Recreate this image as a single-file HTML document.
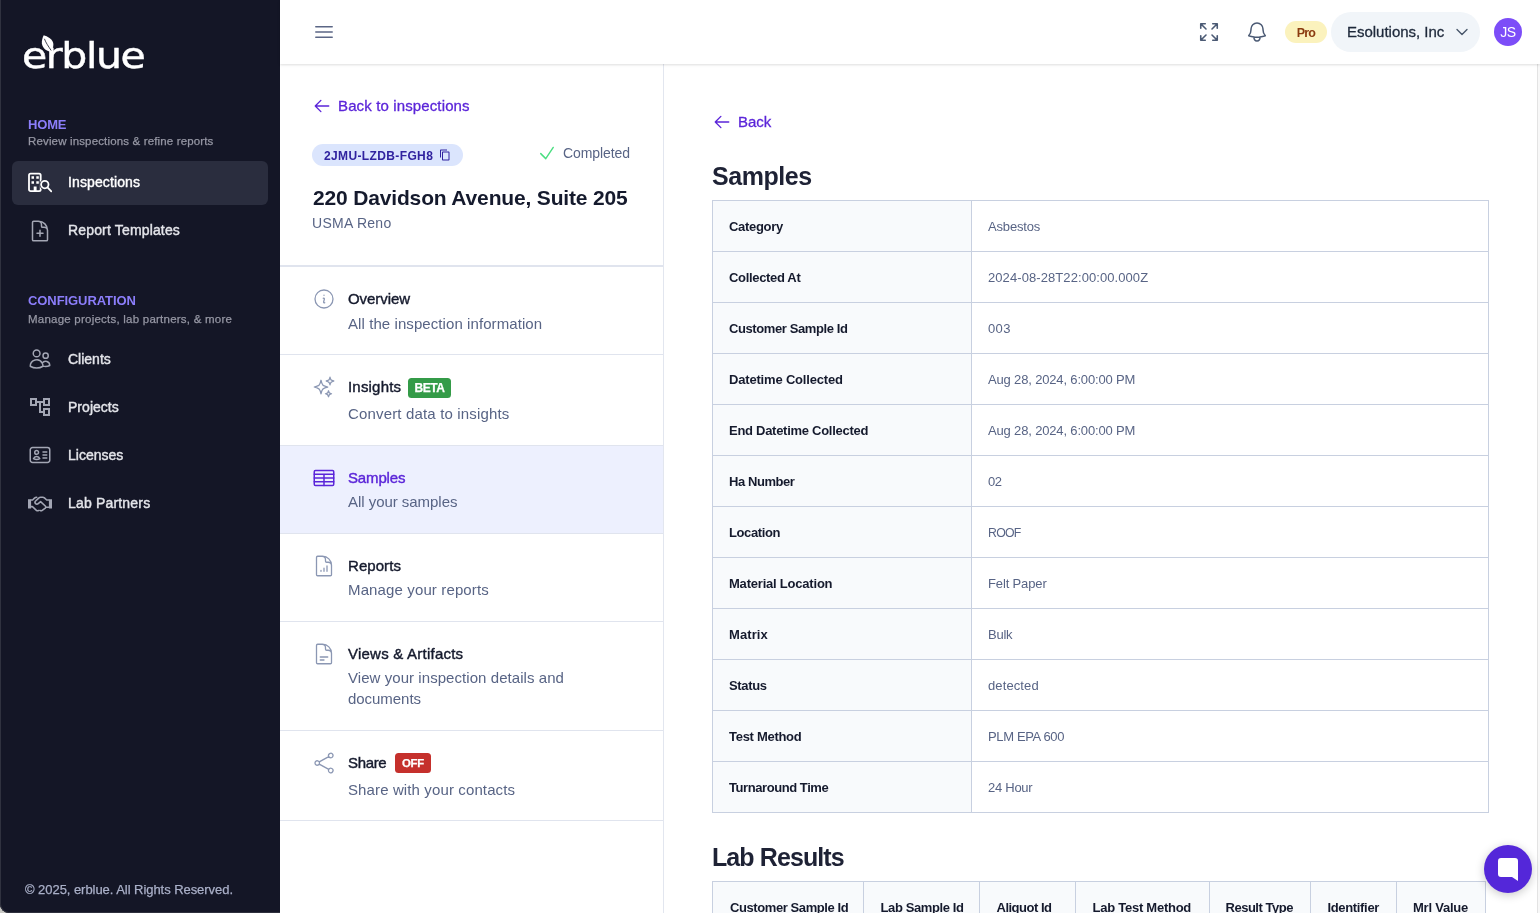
<!DOCTYPE html>
<html lang="en">
<head>
<meta charset="utf-8">
<title>erblue – Samples</title>
<style>
*{box-sizing:border-box;margin:0;padding:0}
html,body{width:1540px;height:913px;overflow:hidden;background:#fff;font-family:"Liberation Sans",Arial,sans-serif;color:#0f172a}
body{position:relative}
#cn{position:absolute;left:0;top:900px;width:14px;height:13px;background:#c9c9c5}
.abs{position:absolute}
span{white-space:nowrap}
/* sidebar */
#sb{position:absolute;left:0;top:0;width:280px;height:913px;background:#141626;box-shadow:inset 1px 0 0 #30323f,inset 0 -1px 0 #2e303d;border-bottom-left-radius:9px}
#logo{position:absolute;left:21.800px;top:31.600px;transform:scaleX(1.140);transform-origin:0 0;font-family:"DejaVu Sans","Liberation Sans",sans-serif;font-size:36px;line-height:48px;color:#fff;white-space:nowrap;-webkit-text-stroke:.45px #fff}
.sh{position:absolute;left:28px;font-size:13px;font-weight:700;color:#8c7efb;line-height:16px;white-space:nowrap}
.ss{position:absolute;left:28px;font-size:11.500px;color:#9697a4;line-height:14px;white-space:nowrap;-webkit-text-stroke:.25px #9697a4}
.si{position:absolute;left:12px;width:256px;height:44px;border-radius:6px;color:#e4e5ea;font-size:14px;line-height:44px;padding-left:56px;white-space:nowrap;-webkit-text-stroke:.4px #e4e5ea}
.si.on{background:#2a2d3e;color:#fff;-webkit-text-stroke-color:#fff}
.si svg{position:absolute;left:16px;top:10px;width:24px;height:24px}
#foot{position:absolute;left:25px;top:881.5px;font-size:13px;color:#aab0c8;line-height:16px;white-space:nowrap;-webkit-text-stroke:.25px #aab0c8}
/* header */
#hd{position:absolute;left:280px;top:0;width:1260px;height:64px;background:#fff;box-shadow:0 1px 3px rgba(0,0,0,.09),0 1px 2px rgba(0,0,0,.05);z-index:5}
#hd svg{position:absolute}
#pro{position:absolute;left:1005px;top:21px;width:42px;height:22px;border-radius:11px;background:#fbf2bd;color:#8a3a10;font-size:12.5px;font-weight:700;line-height:24px;text-align:center}
#org{position:absolute;left:1051px;top:12px;width:149px;height:40px;border-radius:20px;background:#f1f5f9;color:#1e293b;font-size:15px;line-height:40px;padding-left:16px;white-space:nowrap;-webkit-text-stroke:.3px #1e293b}
#av{position:absolute;left:1214px;top:18px;width:28px;height:28px;border-radius:14px;background:#7c4df8;color:#fff;font-size:14px;line-height:28px;text-align:center}
/* panel */
#pn{position:absolute;left:280px;top:64px;width:384px;height:849px;background:#fff;border-right:1px solid #e2e6ef}
.pl{color:#5b25d9;font-size:15px;line-height:20px;white-space:nowrap;-webkit-text-stroke:.3px #5b25d9}
#code{position:absolute;left:32px;top:80px;width:151px;height:22px;border-radius:11px;background:#dbe5fd;color:#30239f;font-size:12px;font-weight:700;line-height:24px;padding-left:12px;white-space:nowrap}
#done{position:absolute;left:283px;top:80px;font-size:14px;line-height:18px;color:#586485;white-space:nowrap}
#ttl{position:absolute;left:33px;top:120px;font-size:21px;font-weight:700;line-height:28px;color:#151a2d;white-space:nowrap}
#sub{position:absolute;left:32px;top:149px;font-size:14px;line-height:20px;color:#586485;white-space:nowrap}
.hr{position:absolute;left:0;width:383px;height:1px;background:#e0e4ee}
.it{position:absolute;left:0;width:383px}
.it svg{position:absolute;left:32px;width:24px;height:24px}
.it b{position:absolute;left:68px;font-size:15px;line-height:20px;color:#151a2d;font-weight:400;white-space:nowrap;-webkit-text-stroke:.4px #151a2d}
.it p{position:absolute;left:68px;font-size:15px;line-height:21px;color:#586485;width:300px}
.tag{position:absolute;height:20px;border-radius:3.500px;color:#fff;font-size:12px;font-weight:700;line-height:20px;text-align:center;-webkit-text-stroke:.25px #fff}
/* main */
#mn{position:absolute;left:664px;top:64px;width:873px;height:849px;background:#fff;overflow:hidden}
#rl{position:absolute;left:1537px;top:64px;width:3px;height:849px;background:#f8f8f8;border-left:1px solid #e3e3e3}
h2{position:absolute;left:48px;font-size:25px;font-weight:700;color:#1e2235;line-height:32px;white-space:nowrap}
table{position:absolute;left:48px;border-collapse:collapse;font-size:13px}
td,th{border:1px solid #c8d0e0;height:51px;padding:0 16px;text-align:left;vertical-align:middle;white-space:nowrap}
th{background:#f8fafc;color:#151a2d;font-weight:700}
td{color:#586485}
#t2 th{padding:0 0 0 17px;text-align:left}
#chat{position:absolute;left:1484px;top:845px;width:48px;height:48px;border-radius:24px;background:#5427d9;box-shadow:0 2px 10px rgba(0,0,0,.22);z-index:9}
</style>
</head>
<body>
<div id="cn"></div>
<div id="sb">
  <div id="logo"><span style="letter-spacing:-1.24px">erblue</span></div>
  <svg id="leaf" class="abs" style="left:38px;top:32px" width="20" height="24" viewBox="0 0 20 24"><path d="M5.700 3.200C9 4 15.500 7.500 15.400 12.500 15.300 16 14 18.500 13 19.800 9 19.500 4.500 16.500 3.900 11.500 3.600 8.500 4.600 5.500 5.700 3.200Z" fill="#fff"/><path d="M6.400 6.800C8 11 10.500 14.500 13.200 18.500" stroke="#141626" stroke-width="0.800" fill="none"/></svg>
  <div class="sh" style="top:117px"><span style="letter-spacing:-0.18px">HOME</span></div>
  <div class="ss" style="top:134.400px"><span style="letter-spacing:0.15px">Review inspections &amp; refine reports</span></div>
  <div class="si on" style="top:161px;line-height:43px"><svg viewBox="0 0 24 24" fill="none" stroke="#fff" stroke-width="1.800" stroke-linecap="round" stroke-linejoin="round"><rect x="1" y="2.700" width="11.700" height="17.400" rx="1.600"/><path d="M3.500 5.300h2.500v2.400h-2.500zM8.300 5.300h2.500v2.400h-2.500zM3.500 10.300h2.500v2.400h-2.500zM8.300 10.300h2.500v2.400h-2.500zM5.700 15.400h2.900v4.700h-2.900z" fill="#fff" stroke="none"/><circle cx="16.800" cy="13.600" r="5.300" fill="#2a2d3e" stroke="none"/><circle cx="16.800" cy="13.600" r="3.700"/><path d="m19.700 16.600 3.600 3.700"/></svg><span style="letter-spacing:0.12px">Inspections</span></div>
  <div class="si" style="top:208px"><svg style="top:11px" viewBox="0 0 24 24" fill="none" stroke="#a3a6b4" stroke-width="1.5" stroke-linecap="round" stroke-linejoin="round"><path d="M19.5 14.25v-2.625a3.375 3.375 0 0 0-3.375-3.375h-1.5A1.125 1.125 0 0 1 13.5 7.125v-1.5a3.375 3.375 0 0 0-3.375-3.375H8.25m3.750 9v6m3-3H9m1.500-12H5.625c-.621 0-1.125.504-1.125 1.125v17.250c0 .621.504 1.125 1.125 1.125h12.750c.621 0 1.125-.504 1.125-1.125V11.250a9 9 0 0 0-9-9Z"/></svg><span style="letter-spacing:0.16px">Report Templates</span></div>
  <div class="sh" style="top:293px"><span style="letter-spacing:-0.08px">CONFIGURATION</span></div>
  <div class="ss" style="top:311.700px"><span style="letter-spacing:0.23px">Manage projects, lab partners, &amp; more</span></div>
  <div class="si" style="top:337px"><svg style="" viewBox="0 0 24 24" fill="none" stroke="#a3a6b4" stroke-width="1.5" stroke-linecap="round" stroke-linejoin="round"><path d="M15 19.128a9.380 9.380 0 0 0 2.625.372 9.337 9.337 0 0 0 4.121-.952 4.125 4.125 0 0 0-7.533-2.493M15 19.128v-.003c0-1.113-.285-2.160-.786-3.070M15 19.128v.106A12.318 12.318 0 0 1 8.624 21c-2.331 0-4.512-.645-6.374-1.766l-.001-.109a6.375 6.375 0 0 1 11.964-3.070M12 6.375a3.375 3.375 0 1 1-6.750 0 3.375 3.375 0 0 1 6.750 0Zm8.250 2.250a2.625 2.625 0 1 1-5.250 0 2.625 2.625 0 0 1 5.250 0Z"/></svg><span>Clients</span></div>
  <div class="si" style="top:385px"><svg style="left:16px;top:10px;width:24px;height:24px" viewBox="0 0 24 24" fill="#a3a6b4"><path d="M22 11V3h-7v3H9V3H2v8h7V8h2v10h4v3h7v-8h-7v3h-2V8h2v3h7zM7 9H4V5h3v4zm10 6h3v4h-3v-4zm0-10h3v4h-3V5z"/></svg><span style="letter-spacing:0.03px">Projects</span></div>
  <div class="si" style="top:433px"><svg style="" viewBox="0 0 24 24" fill="none" stroke="#a3a6b4" stroke-width="1.5" stroke-linecap="round" stroke-linejoin="round"><path d="M15 9h3.750M15 12h3.750M15 15h3.750M4.500 19.500h15a2.250 2.250 0 0 0 2.250-2.250V6.750A2.250 2.250 0 0 0 19.500 4.500h-15a2.250 2.250 0 0 0-2.250 2.250v10.500A2.250 2.250 0 0 0 4.500 19.500Zm6-10.125a1.875 1.875 0 1 1-3.750 0 1.875 1.875 0 0 1 3.750 0Zm1.294 6.336a6.721 6.721 0 0 1-3.170.789 6.721 6.721 0 0 1-3.168-.789 3.376 3.376 0 0 1 6.338 0Z"/></svg><span>Licenses</span></div>
  <div class="si" style="top:481px"><svg style="left:15px;top:10.500px;width:26px;height:24px" viewBox="0 0 26 24" fill="none" stroke="#a3a6b4" stroke-width="1.600" stroke-linejoin="round" stroke-linecap="round"><path d="M1 7.300h3.100v9.100H1zM21.900 7.300h3.100v9.100h-3.100z" fill="#a3a6b4" stroke="none"/><path d="M4.100 8h1.500l1.900-1.900c.600-.600 1.400-.900 2.200-.900M21.900 8h-2.200l-2.300-2.200c-.500-.400-1-.600-1.600-.600h-2.200c-.600 0-1.200.200-1.600.600L8.600 9c-.700.700-.700 1.900 0 2.600s1.900.700 2.600 0l2.400-2 4.700 4.400c.600.600.600 1.500 0 2.100l-3.100 2.300c-.700.500-1.500.500-2.200 0M4.100 14.600h1.300l4 3.700c.600.500 1.400.600 2.100.200M21.900 15.200h-2.700"/></svg><span style="letter-spacing:0.18px">Lab Partners</span></div>
  <div id="foot"><span style="letter-spacing:-0.05px">© 2025, erblue. All Rights Reserved.</span></div>
</div>
<div id="hd">
  <svg style="left:32px;top:20px;width:24px;height:24px" viewBox="0 0 24 24" fill="none" stroke="#5b6685" stroke-width="1.4" stroke-linecap="round" stroke-linejoin="round"><path d="M3.750 6.750h16.500M3.750 12h16.500m-16.500 5.250h16.500"/></svg>
  <svg style="left:917px;top:20px;width:24px;height:24px" viewBox="0 0 24 24" fill="none" stroke="#4b5a74" stroke-width="1.6" stroke-linecap="round" stroke-linejoin="round"><path d="M3.750 3.750v4.500m0-4.500h4.500m-4.500 0L9 9M3.750 20.250v-4.500m0 4.500h4.500m-4.500 0L9 15M20.250 3.750h-4.500m4.500 0v4.500m0-4.500L15 9m5.250 11.250h-4.500m4.500 0v-4.500m0 4.500L15 15"/></svg>
  <svg style="left:965px;top:20px;width:24px;height:24px" viewBox="0 0 24 24" fill="none" stroke="#4b5a74" stroke-width="1.5" stroke-linecap="round" stroke-linejoin="round"><path d="M14.857 17.082a23.848 23.848 0 0 0 5.454-1.310A8.967 8.967 0 0 1 18 9.750V9A6 6 0 0 0 6 9v.750a8.967 8.967 0 0 1-2.312 6.022c1.733.640 3.560 1.085 5.455 1.310m5.714 0a24.255 24.255 0 0 1-5.714 0m5.714 0a3 3 0 1 1-5.714 0"/></svg>
  <div id="pro"><span style="letter-spacing:-0.81px">Pro</span></div>
  <div id="org"><span style="letter-spacing:-0.02px">Esolutions, Inc</span><svg style="left:123px;top:12px;width:16px;height:16px" viewBox="0 0 24 24" fill="none" stroke="#475569" stroke-width="2" stroke-linecap="round" stroke-linejoin="round"><path d="m19.500 8.250-7.500 7.500-7.500-7.500"/></svg></div>
  <div id="av"><span style="letter-spacing:-.5px">JS</span></div>
</div>
<div id="pn">
  <svg style="left:33px;top:33px;width:18px;height:18px" viewBox="0 0 24 24" fill="none" stroke="#5b25d9" stroke-width="1.8" stroke-linecap="round" stroke-linejoin="round" class="abs"><path d="M10.500 19.500 3 12m0 0 7.500-7.500M3 12h18"/></svg>
  <div class="pl abs" style="left:58px;top:32px"><span style="letter-spacing:0.13px">Back to inspections</span></div>
  <div id="code"><span style="letter-spacing:0.37px">2JMU-LZDB-FGH8</span><svg class="abs" style="left:127px;top:5px" width="12" height="12" viewBox="0 0 24 24" fill="#30239f"><path d="M16 1H4c-1.100 0-2 .900-2 2v14h2V3h12V1zm3 4H8c-1.100 0-2 .900-2 2v14c0 1.100.900 2 2 2h11c1.100 0 2-.900 2-2V7c0-1.100-.900-2-2-2zm0 16H8V7h11v14z"/></svg></div>
  <svg style="left:257px;top:79px;width:20px;height:20px" viewBox="0 0 24 24" fill="none" stroke="#4ade80" stroke-width="1.7" stroke-linecap="round" stroke-linejoin="round" class="abs"><path d="m4.500 12.750 6 6 9-13.500"/></svg>
  <div id="done"><span style="letter-spacing:-0.08px">Completed</span></div>
  <div id="ttl"><span style="letter-spacing:-0.16px">220 Davidson Avenue, Suite 205</span></div>
  <div id="sub"><span style="letter-spacing:0.27px">USMA Reno</span></div>
  <div class="hr" style="top:201px;height:2px"></div>
  <div class="it" style="top:203px;height:87px">
    <svg style="top:20px" viewBox="0 0 24 24" fill="none" stroke="#8b97b3" stroke-width="1.3" stroke-linecap="round" stroke-linejoin="round"><path d="m11.250 11.250.041-.020a.750.750 0 0 1 1.063.852l-.708 2.836a.750.750 0 0 0 1.063.853l.041-.021M21 12a9 9 0 1 1-18 0 9 9 0 0 1 18 0Zm-9-3.750h.008v.008H12V8.250Z"/></svg>
    <b style="top:22px"><span style="letter-spacing:-0.07px">Overview</span></b><p style="top:46px"><span style="letter-spacing:0.08px">All the inspection information</span></p>
  </div>
  <div class="hr" style="top:290px"></div>
  <div class="it" style="top:291px;height:90px">
    <svg style="top:20px" viewBox="0 0 24 24" fill="none" stroke="#8b97b3" stroke-width="1.3" stroke-linecap="round" stroke-linejoin="round"><path d="M9.813 15.904 9 18.750l-.813-2.846a4.500 4.500 0 0 0-3.090-3.090L2.250 12l2.846-.813a4.500 4.500 0 0 0 3.090-3.090L9 5.250l.813 2.846a4.500 4.500 0 0 0 3.090 3.090L15.750 12l-2.846.813a4.500 4.500 0 0 0-3.090 3.090ZM18.259 8.715 18 9.750l-.259-1.035a3.375 3.375 0 0 0-2.455-2.456L14.250 6l1.036-.259a3.375 3.375 0 0 0 2.455-2.456L18 2.250l.259 1.035a3.375 3.375 0 0 0 2.456 2.456L21.750 6l-1.035.259a3.375 3.375 0 0 0-2.456 2.456ZM16.894 20.567 16.500 21.750l-.394-1.183a2.250 2.250 0 0 0-1.423-1.423L13.500 18.750l1.183-.394a2.250 2.250 0 0 0 1.423-1.423l.394-1.183.394 1.183a2.250 2.250 0 0 0 1.423 1.423l1.183.394-1.183.394a2.250 2.250 0 0 0-1.423 1.423Z"/></svg>
    <b style="top:22px"><span style="letter-spacing:0.19px">Insights</span></b><span class="tag" style="left:128px;top:23px;width:43px;background:#349b48"><span style="letter-spacing:-0.42px">BETA</span></span><p style="top:48px"><span style="letter-spacing:0.16px">Convert data to insights</span></p>
  </div>
  <div class="hr" style="top:381px"></div>
  <div class="it" style="top:382px;height:87px;background:#edf0fe">
    <svg style="top:20px" viewBox="0 0 24 24" fill="none" stroke="#5b25d9" stroke-width="1.500" stroke-linecap="round" stroke-linejoin="round"><rect x="2.250" y="4.500" width="19.500" height="15" rx="1.200"/><path d="M2.250 8.250h19.500M2.250 12h19.500M2.250 15.750h19.500M12 8.250v11.250"/></svg>
    <b style="top:22px;color:#5b25d9;-webkit-text-stroke-color:#5b25d9"><span style="letter-spacing:-0.14px">Samples</span></b><p style="top:45px"><span style="letter-spacing:-0.04px">All your samples</span></p>
  </div>
  <div class="hr" style="top:469px"></div>
  <div class="it" style="top:470px;height:87px">
    <svg style="top:20px" viewBox="0 0 24 24" fill="none" stroke="#8b97b3" stroke-width="1.3" stroke-linecap="round" stroke-linejoin="round"><path d="M19.500 14.250v-2.625a3.375 3.375 0 0 0-3.375-3.375h-1.500A1.125 1.125 0 0 1 13.500 7.125v-1.500a3.375 3.375 0 0 0-3.375-3.375H8.250M9 16.500v.750m3-3v3M15 12v5.250m-4.500-15H5.625c-.621 0-1.125.504-1.125 1.125v17.250c0 .621.504 1.125 1.125 1.125h12.750c.621 0 1.125-.504 1.125-1.125V11.250a9 9 0 0 0-9-9Z"/></svg>
    <b style="top:22px"><span style="letter-spacing:0.06px">Reports</span></b><p style="top:45px"><span style="letter-spacing:0.13px">Manage your reports</span></p>
  </div>
  <div class="hr" style="top:557px"></div>
  <div class="it" style="top:558px;height:108px">
    <svg style="top:20px" viewBox="0 0 24 24" fill="none" stroke="#8b97b3" stroke-width="1.3" stroke-linecap="round" stroke-linejoin="round"><path d="M19.500 14.250v-2.625a3.375 3.375 0 0 0-3.375-3.375h-1.500A1.125 1.125 0 0 1 13.500 7.125v-1.500a3.375 3.375 0 0 0-3.375-3.375H8.250m0 12.750h7.500m-7.500 3H12M10.500 2.250H5.625c-.621 0-1.125.504-1.125 1.125v17.250c0 .621.504 1.125 1.125 1.125h12.750c.621 0 1.125-.504 1.125-1.125V11.250a9 9 0 0 0-9-9Z"/></svg>
    <b style="top:22px"><span style="letter-spacing:0.23px">Views &amp; Artifacts</span></b><p style="top:45px"><span style="letter-spacing:0.06px">View your inspection details and</span><br><span style="letter-spacing:-0.04px">documents</span></p>
  </div>
  <div class="hr" style="top:666px"></div>
  <div class="it" style="top:667px;height:89px">
    <svg style="top:20px" viewBox="0 0 24 24" fill="none" stroke="#8b97b3" stroke-width="1.3" stroke-linecap="round" stroke-linejoin="round"><path d="M7.217 10.907a2.250 2.250 0 1 0 0 2.186m0-2.186c.180.324.283.696.283 1.093s-.103.770-.283 1.093m0-2.186 9.566-5.314m-9.566 7.500 9.566 5.314m0 0a2.250 2.250 0 1 0 3.935 2.186 2.250 2.250 0 0 0-3.935-2.186Zm0-12.814a2.250 2.250 0 1 0 3.933-2.185 2.250 2.250 0 0 0-3.933 2.185Z"/></svg>
    <b style="top:22px"><span style="letter-spacing:-0.35px">Share</span></b><span class="tag" style="left:115px;top:22px;width:36px;background:#c5302c"><span style="letter-spacing:-0.18px;font-size:11.400px">OFF</span></span><p style="top:48px"><span style="letter-spacing:0.12px">Share with your contacts</span></p>
  </div>
  <div class="hr" style="top:756px"></div>
</div>
<div id="mn">
  <svg style="left:49px;top:49px;width:18px;height:18px" viewBox="0 0 24 24" fill="none" stroke="#5b25d9" stroke-width="1.8" stroke-linecap="round" stroke-linejoin="round" class="abs"><path d="M10.500 19.500 3 12m0 0 7.500-7.500M3 12h18"/></svg>
  <div class="pl abs" style="left:74px;top:48px"><span>Back</span></div>
  <h2 style="top:96px"><span style="letter-spacing:-0.45px">Samples</span></h2>
  <table style="top:136px;width:777px">
    <colgroup><col style="width:259px"><col></colgroup>
    <tr><th><span style="letter-spacing:-0.32px">Category</span></th><td><span style="letter-spacing:-0.17px">Asbestos</span></td></tr>
    <tr><th><span style="letter-spacing:-0.33px">Collected At</span></th><td><span style="letter-spacing:0.08px">2024-08-28T22:00:00.000Z</span></td></tr>
    <tr><th><span style="letter-spacing:-0.40px">Customer Sample Id</span></th><td><span style="letter-spacing:0.34px">003</span></td></tr>
    <tr><th><span style="letter-spacing:-0.18px">Datetime Collected</span></th><td><span style="letter-spacing:-0.16px">Aug 28, 2024, 6:00:00 PM</span></td></tr>
    <tr><th><span style="letter-spacing:-0.28px">End Datetime Collected</span></th><td><span style="letter-spacing:-0.16px">Aug 28, 2024, 6:00:00 PM</span></td></tr>
    <tr><th><span style="letter-spacing:-0.43px">Ha Number</span></th><td><span style="letter-spacing:-0.36px">02</span></td></tr>
    <tr><th><span style="letter-spacing:-0.39px">Location</span></th><td><span style="letter-spacing:-0.72px;font-size:12.300px">ROOF</span></td></tr>
    <tr><th><span style="letter-spacing:-0.21px">Material Location</span></th><td><span style="letter-spacing:-0.14px">Felt Paper</span></td></tr>
    <tr><th><span style="letter-spacing:0.08px">Matrix</span></th><td><span style="letter-spacing:-0.24px">Bulk</span></td></tr>
    <tr><th><span style="letter-spacing:-0.34px">Status</span></th><td><span style="letter-spacing:0.11px">detected</span></td></tr>
    <tr><th><span style="letter-spacing:-0.29px">Test Method</span></th><td><span style="letter-spacing:-0.36px">PLM EPA 600</span></td></tr>
    <tr><th><span style="letter-spacing:-0.43px">Turnaround Time</span></th><td><span style="letter-spacing:-0.27px">24 Hour</span></td></tr>
  </table>
  <h2 style="top:777px"><span style="letter-spacing:-0.90px">Lab Results</span></h2>
  <table id="t2" style="top:817px;width:772.500px;table-layout:fixed">
    <colgroup><col style="width:150.5px"><col style="width:116px"><col style="width:96px"><col style="width:134px"><col style="width:101px"><col style="width:86.5px"><col style="width:88.5px"></colgroup>
    <tr><th><span style="letter-spacing:-0.41px">Customer Sample Id</span></th><th><span style="letter-spacing:-0.39px">Lab Sample Id</span></th><th><span style="letter-spacing:-0.50px">Aliquot Id</span></th><th><span style="letter-spacing:-0.25px">Lab Test Method</span></th><th><span style="letter-spacing:-0.48px;margin-left:-1px">Result Type</span></th><th><span style="letter-spacing:-0.34px">Identifier</span></th><th><span style="letter-spacing:-0.23px;margin-left:-1px">Mrl Value</span></th></tr>
  </table>
</div>
<div id="rl"></div>
<div id="chat"><svg class="abs" style="left:14px;top:13px" width="22" height="24" viewBox="0 0 22 24"><path d="M3 0h14a3 3 0 0 1 3 3v20l-6-4H3a3 3 0 0 1-3-3V3a3 3 0 0 1 3-3Z" fill="#fff"/></svg></div>
</body>
</html>
